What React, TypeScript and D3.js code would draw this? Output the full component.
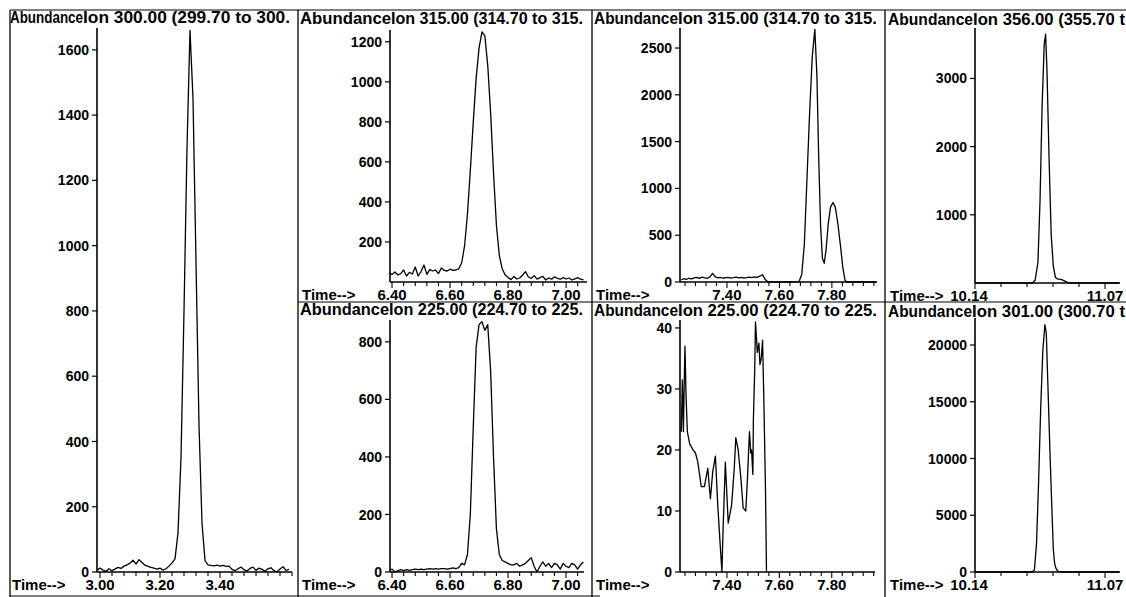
import React from "react";
import * as d3 from "d3";

// ---- data: [time (min), abundance] ----
const ion300 = [
  [2.99, 5], [3.0, 12], [3.01, 6], [3.02, 2], [3.03, 10], [3.04, 4], [3.05, 9], [3.06, 14],
  [3.07, 11], [3.08, 18], [3.09, 22], [3.1, 27], [3.11, 36], [3.12, 24], [3.13, 38], [3.14, 29],
  [3.15, 21], [3.16, 17], [3.17, 14], [3.18, 12], [3.19, 9], [3.2, 12], [3.21, 6], [3.22, 10],
  [3.23, 18], [3.24, 28], [3.25, 40], [3.26, 120], [3.27, 350], [3.28, 800], [3.29, 1300],
  [3.3, 1660], [3.31, 1450], [3.32, 950], [3.33, 450], [3.34, 150], [3.35, 35], [3.36, 22],
  [3.37, 20], [3.38, 19], [3.39, 21], [3.4, 18], [3.41, 20], [3.42, 17], [3.43, 18], [3.44, 8],
  [3.45, 4], [3.46, 10], [3.47, 15], [3.48, 7], [3.49, 3], [3.5, 11], [3.51, 15], [3.52, 5],
  [3.53, 12], [3.54, 8], [3.55, 2], [3.56, 10], [3.57, 13], [3.58, 4], [3.59, 0], [3.6, 9],
  [3.61, 16], [3.62, 5], [3.63, 8],
];

const ion315a = [
  [6.39, 45], [6.4, 38], [6.41, 50], [6.42, 35], [6.43, 42], [6.44, 60], [6.45, 30], [6.46, 48],
  [6.47, 40], [6.48, 75], [6.49, 30], [6.5, 52], [6.51, 85], [6.52, 38], [6.53, 62], [6.54, 55],
  [6.55, 60], [6.56, 42], [6.57, 70], [6.58, 58], [6.59, 55], [6.6, 64], [6.61, 58], [6.62, 60],
  [6.63, 66], [6.64, 95], [6.65, 180], [6.66, 340], [6.67, 560], [6.68, 800], [6.69, 1020],
  [6.7, 1170], [6.71, 1250], [6.72, 1230], [6.73, 1080], [6.74, 840], [6.75, 540], [6.76, 280],
  [6.77, 130], [6.78, 65], [6.79, 35], [6.8, 22], [6.81, 12], [6.82, 28], [6.83, 15], [6.84, 20],
  [6.85, 35], [6.86, 52], [6.87, 25], [6.88, 18], [6.89, 32], [6.9, 14], [6.91, 22], [6.92, 28],
  [6.93, 10], [6.94, 20], [6.95, 14], [6.96, 26], [6.97, 18], [6.98, 14], [6.99, 22], [7.0, 15],
  [7.01, 20], [7.02, 10], [7.03, 16], [7.04, 22], [7.05, 14], [7.06, 10],
];

const ion225a = [
  [6.39, 5], [6.4, 10], [6.41, 0], [6.42, 5], [6.43, 8], [6.44, 5], [6.45, 8], [6.46, 6],
  [6.47, 8], [6.48, 10], [6.49, 8], [6.5, 10], [6.51, 8], [6.52, 10], [6.53, 12], [6.54, 10],
  [6.55, 12], [6.56, 10], [6.57, 12], [6.58, 12], [6.59, 10], [6.6, 12], [6.61, 14], [6.62, 12],
  [6.63, 15], [6.64, 30], [6.65, 25], [6.66, 60], [6.67, 200], [6.68, 500], [6.69, 780],
  [6.7, 860], [6.71, 870], [6.72, 840], [6.73, 860], [6.74, 700], [6.75, 400], [6.76, 150],
  [6.77, 60], [6.78, 40], [6.79, 35], [6.8, 30], [6.81, 25], [6.82, 25], [6.83, 30], [6.84, 20],
  [6.85, 25], [6.86, 30], [6.87, 40], [6.88, 50], [6.89, 20], [6.9, 0], [6.91, 20], [6.92, 35],
  [6.93, 20], [6.94, 30], [6.95, 15], [6.96, 30], [6.97, 25], [6.98, 10], [6.99, 30], [7.0, 20],
  [7.01, 15], [7.02, 30], [7.03, 25], [7.04, 10], [7.05, 25], [7.06, 35],
];

const ion315b = [
  [7.226, 22], [7.235, 35], [7.245, 28], [7.255, 40], [7.265, 33], [7.275, 45], [7.285, 50],
  [7.295, 38], [7.305, 52], [7.315, 44], [7.325, 40], [7.335, 55], [7.345, 92], [7.355, 58],
  [7.365, 44], [7.375, 50], [7.385, 40], [7.395, 46], [7.405, 50], [7.415, 42], [7.425, 46],
  [7.435, 52], [7.445, 44], [7.455, 50], [7.465, 42], [7.475, 46], [7.485, 52], [7.495, 46],
  [7.505, 55], [7.515, 50], [7.525, 62], [7.535, 78], [7.545, 30], [7.555, 2], [7.6, 0],
  [7.64, 0], [7.675, 5], [7.685, 80], [7.695, 400], [7.705, 1100], [7.715, 1800], [7.725, 2400],
  [7.735, 2700], [7.743, 2200], [7.75, 1300], [7.757, 600], [7.764, 250], [7.771, 200],
  [7.778, 350], [7.786, 620], [7.795, 800], [7.804, 850], [7.813, 800], [7.823, 620],
  [7.833, 380], [7.842, 150], [7.85, 20], [7.856, 0], [7.9, 0], [7.97, 0],
];

const ion225b = [
  [7.226, 23], [7.23, 31.5], [7.234, 23], [7.238, 33], [7.24, 37], [7.244, 29], [7.249, 23],
  [7.258, 21], [7.271, 20], [7.28, 19.5], [7.289, 18], [7.302, 14], [7.314, 14], [7.327, 17],
  [7.337, 12], [7.346, 16.5], [7.356, 19], [7.365, 11], [7.375, 4], [7.381, 0], [7.385, 6.5],
  [7.394, 18], [7.405, 8], [7.418, 11], [7.428, 17], [7.434, 22], [7.443, 20], [7.453, 15.5],
  [7.462, 10.5], [7.472, 10], [7.478, 15], [7.486, 23], [7.491, 19.5], [7.494, 20], [7.499, 16],
  [7.501, 25], [7.506, 33], [7.509, 41], [7.516, 36], [7.522, 37.5], [7.526, 34], [7.531, 35],
  [7.536, 38], [7.541, 28], [7.547, 14], [7.551, 0],
];

const ion356 = [
  [10.14, 0], [10.3, 0], [10.45, 0], [10.55, 0], [10.57, 40], [10.59, 300], [10.605, 1200],
  [10.62, 2600], [10.635, 3500], [10.645, 3650], [10.655, 3100], [10.67, 1800], [10.685, 700],
  [10.7, 250], [10.715, 80], [10.73, 60], [10.76, 50], [10.79, 20], [10.81, 0], [11.17, 0],
];

const ion301 = [
  [10.14, 0], [10.3, 0], [10.45, 0], [10.55, 0], [10.565, 200], [10.58, 2500], [10.595, 8000],
  [10.61, 14500], [10.625, 19500], [10.64, 21800], [10.65, 21000], [10.66, 17000],
  [10.675, 11000], [10.69, 5500], [10.7, 2000], [10.71, 700], [10.72, 300], [10.73, 100],
  [10.75, 0], [11.17, 0],
];

// tick labels
const ticks300 = [0, 200, 400, 600, 800, 1000, 1200, 1400, 1600];
const ticks315a = [200, 400, 600, 800, 1000, 1200];
const ticks315b = [0, 500, 1000, 1500, 2000, 2500];
const ticks356 = [1000, 2000, 3000];
const ticks225a = [0, 200, 400, 600, 800];
const ticks225b = [0, 10, 20, 30, 40];
const ticks301 = [0, 5000, 10000, 15000, 20000];

const timeLabels300 = ["3.00", "3.20", "3.40"];
const timeLabels640 = ["6.40", "6.60", "6.80", "7.00"];
const timeLabels740 = ["7.40", "7.60", "7.80"];
const timeLabels1014 = ["10.14", "11.07"];
const timeMarks1014 = [10.14, 10.326, 10.512, 10.698, 10.884, 11.07];

const FONT = "'Liberation Sans', Arial, Helvetica, sans-serif";

const panels = [
  {
    id: "p300", ion: "Ion 300.00 (299.70 to 300.", data: ion300, yTicks: ticks300, labels: timeLabels300,
    left: 10, abEnd: 83, ionEnd: 290, axisX: 97, axisR: 292, top: 28, bottom: 572, titleY: 23,
    xDomain: [2.99, 3.64], yMax: 1667, step: 0.04, marks: null,
  },
  {
    id: "p315a", ion: "Ion 315.00 (314.70 to 315.", data: ion315a, yTicks: ticks315a, labels: timeLabels640,
    left: 300, abEnd: 391, ionEnd: 583, axisX: 390, axisR: 587, top: 30, bottom: 282, titleY: 24,
    xDomain: [6.393, 7.072], yMax: 1259, step: 0.04, marks: null,
  },
  {
    id: "p225a", ion: "Ion 225.00 (224.70 to 225.", data: ion225a, yTicks: ticks225a, labels: timeLabels640,
    left: 300, abEnd: 389, ionEnd: 583, axisX: 390, axisR: 584, top: 320, bottom: 572, titleY: 315,
    xDomain: [6.393, 7.062], yMax: 876, step: 0.04, marks: null,
  },
  {
    id: "p315b", ion: "Ion 315.00 (314.70 to 315.", data: ion315b, yTicks: ticks315b, labels: timeLabels740,
    left: 594, abEnd: 678, ionEnd: 877, axisX: 680, axisR: 877, top: 28, bottom: 282, titleY: 24,
    xDomain: [7.221, 7.972], yMax: 2714, step: 0.04, marks: null,
  },
  {
    id: "p225b", ion: "Ion 225.00 (224.70 to 225.", data: ion225b, yTicks: ticks225b, labels: timeLabels740,
    left: 594, abEnd: 678, ionEnd: 877, axisX: 680, axisR: 875, top: 320, bottom: 572, titleY: 316,
    xDomain: [7.221, 7.965], yMax: 41.3, step: 0.04, marks: null,
  },
  {
    id: "p356", ion: "Ion 356.00 (355.70 t", data: ion356, yTicks: ticks356, labels: timeLabels1014,
    left: 888, abEnd: 973, ionEnd: 1125, axisX: 975, axisR: 1120, top: 28, bottom: 283, titleY: 25,
    xDomain: [10.14, 11.177], yMax: 3740, step: 0, marks: timeMarks1014,
  },
  {
    id: "p301", ion: "Ion 301.00 (300.70 t", data: ion301, yTicks: ticks301, labels: timeLabels1014,
    left: 888, abEnd: 972, ionEnd: 1125, axisX: 975, axisR: 1120, top: 318, bottom: 572, titleY: 317,
    xDomain: [10.14, 11.177], yMax: 22379, step: 0, marks: timeMarks1014,
  },
];

function Panel({ p }: { p: any }) {
  const x = d3.scaleLinear().domain(p.xDomain).range([p.axisX, p.axisR]);
  const y = d3.scaleLinear().domain([0, p.yMax]).range([p.bottom, p.top]);
  const line = d3
    .line<number[]>()
    .x((d) => x(d[0]))
    .y((d) => y(d[1]));

  const labelVals = p.labels.map(Number);
  let minor: number[] = [];
  if (p.marks) minor = p.marks;
  else {
    const first = Math.ceil((p.xDomain[0] - 1e-9) / p.step) * p.step;
    minor = d3.range(first, p.xDomain[1], p.step);
  }
  const isMajor = (t: number) => labelVals.some((v: number) => Math.abs(v - t) < 0.005);
  const labY = p.bottom + 18;

  return (
    <g>
      <text x={p.left} y={p.titleY} fontSize={16} fontWeight="bold" textLength={p.abEnd - p.left} lengthAdjust="spacingAndGlyphs">
        Abundance
      </text>
      <text x={p.abEnd} y={p.titleY} fontSize={16} fontWeight="bold" textLength={p.ionEnd - p.abEnd} lengthAdjust="spacingAndGlyphs">
        {p.ion}
      </text>

      <line x1={p.axisX} x2={p.axisX} y1={p.top} y2={p.bottom} stroke="#000" strokeWidth={1.6} />
      {p.yTicks.map((t: number) => (
        <g key={t}>
          <line x1={p.axisX - 5} x2={p.axisX} y1={y(t)} y2={y(t)} stroke="#000" strokeWidth={1.2} />
          <text x={p.axisX - 8} y={y(t)} dy="0.36em" textAnchor="end" fontSize={14} fontWeight="bold">
            {t}
          </text>
        </g>
      ))}

      <line x1={p.axisX} x2={p.axisR} y1={p.bottom} y2={p.bottom} stroke="#000" strokeWidth={1.3} />
      {minor.map((t: number, i: number) => (
        <line key={i} x1={x(t)} x2={x(t)} y1={p.bottom} y2={p.bottom + (isMajor(t) ? 6 : 4)} stroke="#000" strokeWidth={1.1} />
      ))}
      {p.labels.map((l: string, i: number) => (
        <text
          key={l}
          x={x(Number(l)) + (p.marks && i === 0 ? -6 : 0)}
          y={labY}
          textAnchor="middle"
          fontSize={15}
          fontWeight="bold"
        >
          {l}
        </text>
      ))}
      <text x={p.left + 2} y={labY} fontSize={15} fontWeight="bold">
        Time--&gt;
      </text>

      <path d={line(p.data) || ""} fill="none" stroke="#000" strokeWidth={1.3} strokeLinejoin="round" />
    </g>
  );
}

export default function App() {
  return (
    <svg
      width={1126}
      height={597}
      style={{ position: "absolute", left: 0, top: 0, background: "#fff" }}
      fontFamily={FONT}
    >
      <rect x={0} y={0} width={1126} height={597} fill="#fff" />
      {/* frame lines of the printout */}
      <line x1={10} x2={1126} y1={10} y2={10} stroke="#000" strokeWidth={1.2} />
      <line x1={298} x2={1126} y1={302} y2={302} stroke="#000" strokeWidth={1.2} />
      <line x1={10} x2={600} y1={596} y2={596} stroke="#000" strokeWidth={1.2} />
      {[10, 298, 592, 885].map((vx) => (
        <line key={vx} x1={vx} x2={vx} y1={10} y2={597} stroke="#000" strokeWidth={1.3} />
      ))}
      {panels.map((p) => (
        <Panel key={p.id} p={p} />
      ))}
    </svg>
  );
}
